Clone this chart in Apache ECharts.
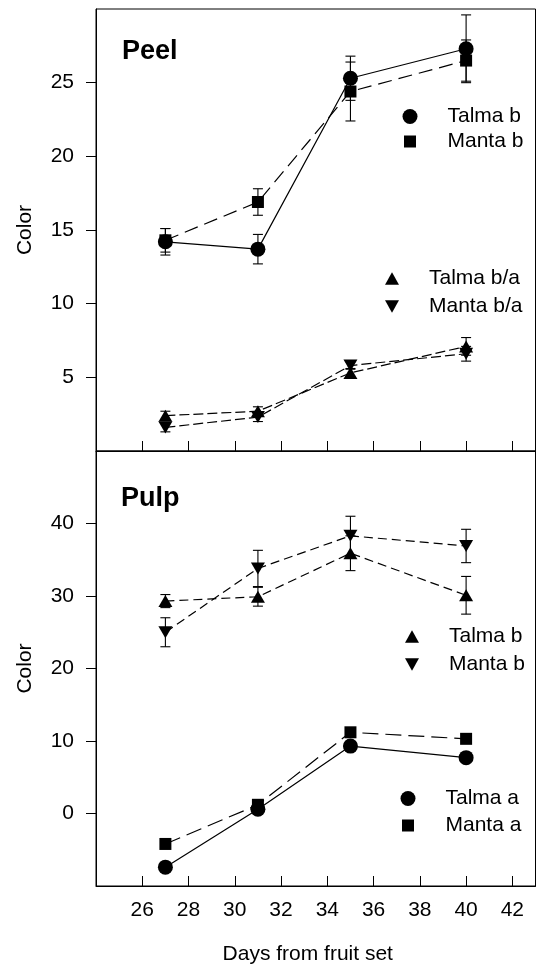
<!DOCTYPE html>
<html>
<head>
<meta charset="utf-8">
<script src="https://cdn.jsdelivr.net/npm/echarts@6/dist/echarts.min.js"></script>
<style>
  html, body { margin: 0; padding: 0; background: #fff; }
  #chart { width: 537px; height: 966px; }
</style>
</head>
<body>
<div id="chart"></div>
<script>
// Sampling days (days from fruit set)
const days = [27, 31, 35, 40];

// Peel colour
const peelTalmaB = [14.2, 13.7, 25.3, 27.3];
const peelTalmaBErr = [0.9, 1.0, 1.5, 2.3];
const peelMantaB = [14.3, 16.9, 24.4, 26.5];
const peelMantaBErr = [0.8, 0.9, 2.0, 1.4];
const peelTalmaBA = [2.4, 2.7, 5.3, 7.1];
const peelTalmaBAErr = [0.3, 0.3, 0.3, 0.6];
const peelMantaBA = [1.6, 2.3, 5.8, 6.6];
const peelMantaBAErr = [0.3, 0.3, 0.25, 0.5];

// Pulp colour
const pulpTalmaB = [29.3, 29.9, 35.9, 30.1];
const pulpTalmaBErr = [0.9, 1.3, 2.4, 2.6];
const pulpMantaB = [25.0, 33.8, 38.3, 36.9];
const pulpMantaBErr = [2.0, 2.5, 2.7, 2.3];
const pulpTalmaA = [-7.4, 0.6, 9.3, 7.7];
const pulpMantaA = [-4.2, 1.2, 11.2, 10.3];

// Tick positions
const xTicks = [26, 28, 30, 32, 34, 36, 38, 40, 42];
const peelYTicks = [5, 10, 15, 20, 25];
const pulpYTicks = [0, 10, 20, 30, 40];

const FONT = "'Liberation Sans', Arial, Helvetica, sans-serif";
const DOWN_TRI = 'path://M0,0 L20,0 L10,18 Z';
const UP_TRI = 'path://M10,0 L20,18 L0,18 Z';

const pairs = (ys) => days.map((d, i) => [d, ys[i]]);

function lineSeries(name, ys, symbol, size, dash, axis) {
  return {
    name, type: 'line', xAxisIndex: axis, yAxisIndex: axis,
    data: pairs(ys), symbol, symbolSize: size,
    showAllSymbol: true, animation: false, z: 3,
    itemStyle: { color: '#000' },
    lineStyle: { color: '#000', width: 1.2, type: dash }
  };
}

function errorBars(ys, errs, axis) {
  return {
    type: 'custom', xAxisIndex: axis, yAxisIndex: axis, z: 2, animation: false,
    silent: true,
    data: days.map((d, i) => [d, ys[i] - errs[i], ys[i] + errs[i]]),
    renderItem(params, api) {
      const lo = api.coord([api.value(0), api.value(1)]);
      const hi = api.coord([api.value(0), api.value(2)]);
      const w = 5;
      const st = { stroke: '#000', lineWidth: 1.1 };
      return {
        type: 'group',
        children: [
          { type: 'line', shape: { x1: lo[0], y1: lo[1], x2: hi[0], y2: hi[1] }, style: st },
          { type: 'line', shape: { x1: hi[0] - w, y1: hi[1], x2: hi[0] + w, y2: hi[1] }, style: st },
          { type: 'line', shape: { x1: lo[0] - w, y1: lo[1], x2: lo[0] + w, y2: lo[1] }, style: st }
        ]
      };
    }
  };
}

const textStyle = { fontFamily: FONT, fontSize: 21, color: '#000' };

function xAxisCfg(idx, showLabels) {
  return {
    type: 'value', gridIndex: idx, min: 24, max: 43,
    axisLine: { show: true, onZero: false, lineStyle: { color: '#000', width: 1 } },
    axisTick: { show: true, inside: true, length: 10, customValues: xTicks, lineStyle: { color: '#000' } },
    axisLabel: { show: showLabels, customValues: xTicks, margin: 14, ...textStyle },
    splitLine: { show: false },
    name: showLabels ? 'Days from fruit set' : '',
    nameLocation: 'middle', nameGap: 58,
    nameTextStyle: { ...textStyle, padding: [0, 16, 0, 0] }
  };
}

function yAxisCfg(idx, min, max, ticks) {
  return {
    type: 'value', gridIndex: idx, min, max,
    axisLine: { show: true, onZero: false, lineStyle: { color: '#000', width: 1 } },
    axisTick: { show: true, inside: false, length: 10, customValues: ticks, lineStyle: { color: '#000' } },
    axisLabel: { customValues: ticks, margin: 22, ...textStyle },
    splitLine: { show: false },
    name: 'Color', nameLocation: 'middle', nameGap: 60,
    nameTextStyle: { ...textStyle }
  };
}

function legendCfg(left, top, gap, items, w, h) {
  return {
    orient: 'vertical', left, top, padding: 0, itemGap: gap,
    itemWidth: w, itemHeight: h, selectedMode: false,
    data: items,
    textStyle: { ...textStyle, lineHeight: 21, padding: [0, 0, 0, 25] }
  };
}

const option = {
  animation: false,
  backgroundColor: '#fff',
  grid: [
    { left: 96, width: 439.5, top: 9, height: 442, show: true, borderColor: '#000', borderWidth: 1, containLabel: false },
    { left: 96, width: 439.5, top: 451, height: 438, show: true, borderColor: '#000', borderWidth: 1, containLabel: false }
  ],
  title: [
    { text: 'Peel', left: 122, top: 38, padding: 0, textStyle: { fontFamily: FONT, fontSize: 27, fontWeight: 'bold', color: '#000' } },
    { text: 'Pulp', left: 121, top: 485, padding: 0, textStyle: { fontFamily: FONT, fontSize: 27, fontWeight: 'bold', color: '#000' } }
  ],
  xAxis: [xAxisCfg(0, false), xAxisCfg(1, true)],
  yAxis: [yAxisCfg(0, 0, 30, peelYTicks), yAxisCfg(1, -10, 50, pulpYTicks)],
  legend: [
    legendCfg(401, 106, 4, [
      { name: 'Talma b', icon: 'circle' },
      { name: 'Manta b', icon: 'rect', itemStyle: { borderColor: '#fff', borderWidth: 3 } }
    ], 15, 15),
    legendCfg(385, 268, 7, [
      { name: 'Talma b/a', icon: UP_TRI },
      { name: 'Manta b/a', icon: DOWN_TRI }
    ], 14, 13),
    legendCfg(405, 626, 7, [
      { name: 'Talma b', icon: UP_TRI },
      { name: 'Manta b', icon: DOWN_TRI }
    ], 14, 13),
    legendCfg(399, 788, 6, [
      { name: 'Talma a', icon: 'circle' },
      { name: 'Manta a', icon: 'rect', itemStyle: { borderColor: '#fff', borderWidth: 3 } }
    ], 15, 15)
  ],
  series: [
    errorBars(peelTalmaB, peelTalmaBErr, 0),
    errorBars(peelMantaB, peelMantaBErr, 0),
    errorBars(peelTalmaBA, peelTalmaBAErr, 0),
    errorBars(peelMantaBA, peelMantaBAErr, 0),
    lineSeries('Talma b', peelTalmaB, 'circle', 15, 'solid', 0),
    lineSeries('Manta b', peelMantaB, 'rect', 12, [14, 7], 0),
    lineSeries('Talma b/a', peelTalmaBA, UP_TRI, [14, 12], [10, 4], 0),
    lineSeries('Manta b/a', peelMantaBA, DOWN_TRI, [14, 12], [10, 4], 0),

    errorBars(pulpTalmaB, pulpTalmaBErr, 1),
    errorBars(pulpMantaB, pulpMantaBErr, 1),
    lineSeries('Talma b', pulpTalmaB, UP_TRI, [14, 12], [9, 5], 1),
    lineSeries('Manta b', pulpMantaB, DOWN_TRI, [14, 12], [9, 5], 1),
    lineSeries('Talma a', pulpTalmaA, 'circle', 15, 'solid', 1),
    lineSeries('Manta a', pulpMantaA, 'rect', 12, [16, 7], 1)
  ]
};

const chart = echarts.init(document.getElementById('chart'), null, { renderer: 'canvas' });
chart.setOption(option);
</script>
</body>
</html>
